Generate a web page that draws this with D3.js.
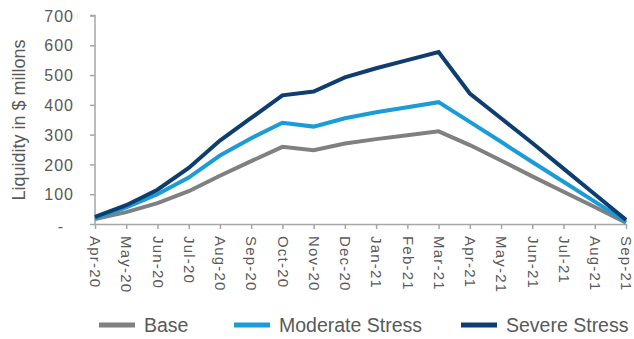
<!DOCTYPE html>
<html><head><meta charset="utf-8">
<script src="https://cdn.jsdelivr.net/npm/d3@7/dist/d3.min.js"></script>
<style>body{margin:0;background:#fff;}svg{display:block;font-family:"Liberation Sans",Arial,sans-serif;}</style>
</head><body>
<svg id="c" width="634" height="339"></svg>
<script>
const months = ["Apr-20","May-20","Jun-20","Jul-20","Aug-20","Sep-20","Oct-20","Nov-20","Dec-20","Jan-21","Feb-21","Mar-21","Apr-21","May-21","Jun-21","Jul-21","Aug-21","Sep-21"];
const base = [17,40,70,110,162,211,259,248,270,285,298,311,265,213,160,108,57,4];
const moderate = [20,56,100,156,230,288,340,327,355,375,392,409,343,276,208,142,75,8];
const severe = [24,63,115,188,280,356,432,445,492,523,550,577,438,355,272,186,100,14];
const yTicks = [0,100,200,300,400,500,600,700];
const seriesNames = ["Base","Moderate Stress","Severe Stress"];
const colors = ["#808080","#1b9bd7","#0e3d6f"];

const svg = d3.select("#c");
const x = d3.scalePoint().domain(months).range([95,626]);
const y = d3.scaleLinear().domain([0,700]).range([224,15.5]);
const gray = "#a6a6a6", txt = "#595959";

// y axis
const ya = svg.append("g").attr("transform","translate(95,0)")
  .call(d3.axisLeft(y).tickValues(yTicks).tickSize(5).tickPadding(16).tickFormat(d=>d===0?"-":d));
ya.select(".domain").attr("stroke",gray).attr("stroke-width",1.5).attr("d","M-5,15.5H0V224");
ya.selectAll(".tick line").attr("stroke",gray).attr("stroke-width",1.5);
ya.selectAll(".tick text").attr("fill",txt).style("font-size","16px").style("letter-spacing","1px").attr("dy","0.35em");
ya.selectAll(".tick text").filter(d=>d===0).attr("dx","-10px").attr("dy","0.45em");

// x axis
const xa = svg.append("g").attr("transform","translate(0,224)")
  .call(d3.axisBottom(x).tickSize(5).tickSizeOuter(0));
xa.select(".domain").attr("stroke",gray).attr("stroke-width",1.5);
xa.selectAll(".tick line").attr("stroke",gray).attr("stroke-width",1.5);
xa.selectAll(".tick text").attr("fill",txt).style("font-size","15px").style("letter-spacing","1.2px")
  .attr("transform","rotate(90)").attr("text-anchor","start")
  .attr("x",12).attr("y",0).attr("dy","0.35em");

// y title
svg.append("text").attr("transform","translate(25,120) rotate(-90)")
  .attr("text-anchor","middle").attr("fill",txt).style("font-size","18px")
  .text("Liquidity in $ millons");

// lines
const data = [base, moderate, severe];
const line = d3.line().x((d,i)=>x(months[i])).y(d=>y(d));
svg.append("g").selectAll("path").data(data).join("path")
  .attr("d",line).attr("fill","none")
  .attr("stroke",(d,i)=>colors[i]).attr("stroke-width",4).attr("stroke-linejoin","miter");

// legend
const legX = [99,234,461];
const lg = svg.append("g").selectAll("g").data(seriesNames).join("g")
  .attr("transform",(d,i)=>`translate(${legX[i]},325)`);
lg.append("line").attr("x1",0).attr("x2",36).attr("y1",0).attr("y2",0)
  .attr("stroke",(d,i)=>colors[i]).attr("stroke-width",5);
lg.append("text").attr("x",45).attr("y",0).attr("dy","0.35em")
  .attr("fill",txt).style("font-size","19.5px").text(d=>d);
</script>
</body></html>
